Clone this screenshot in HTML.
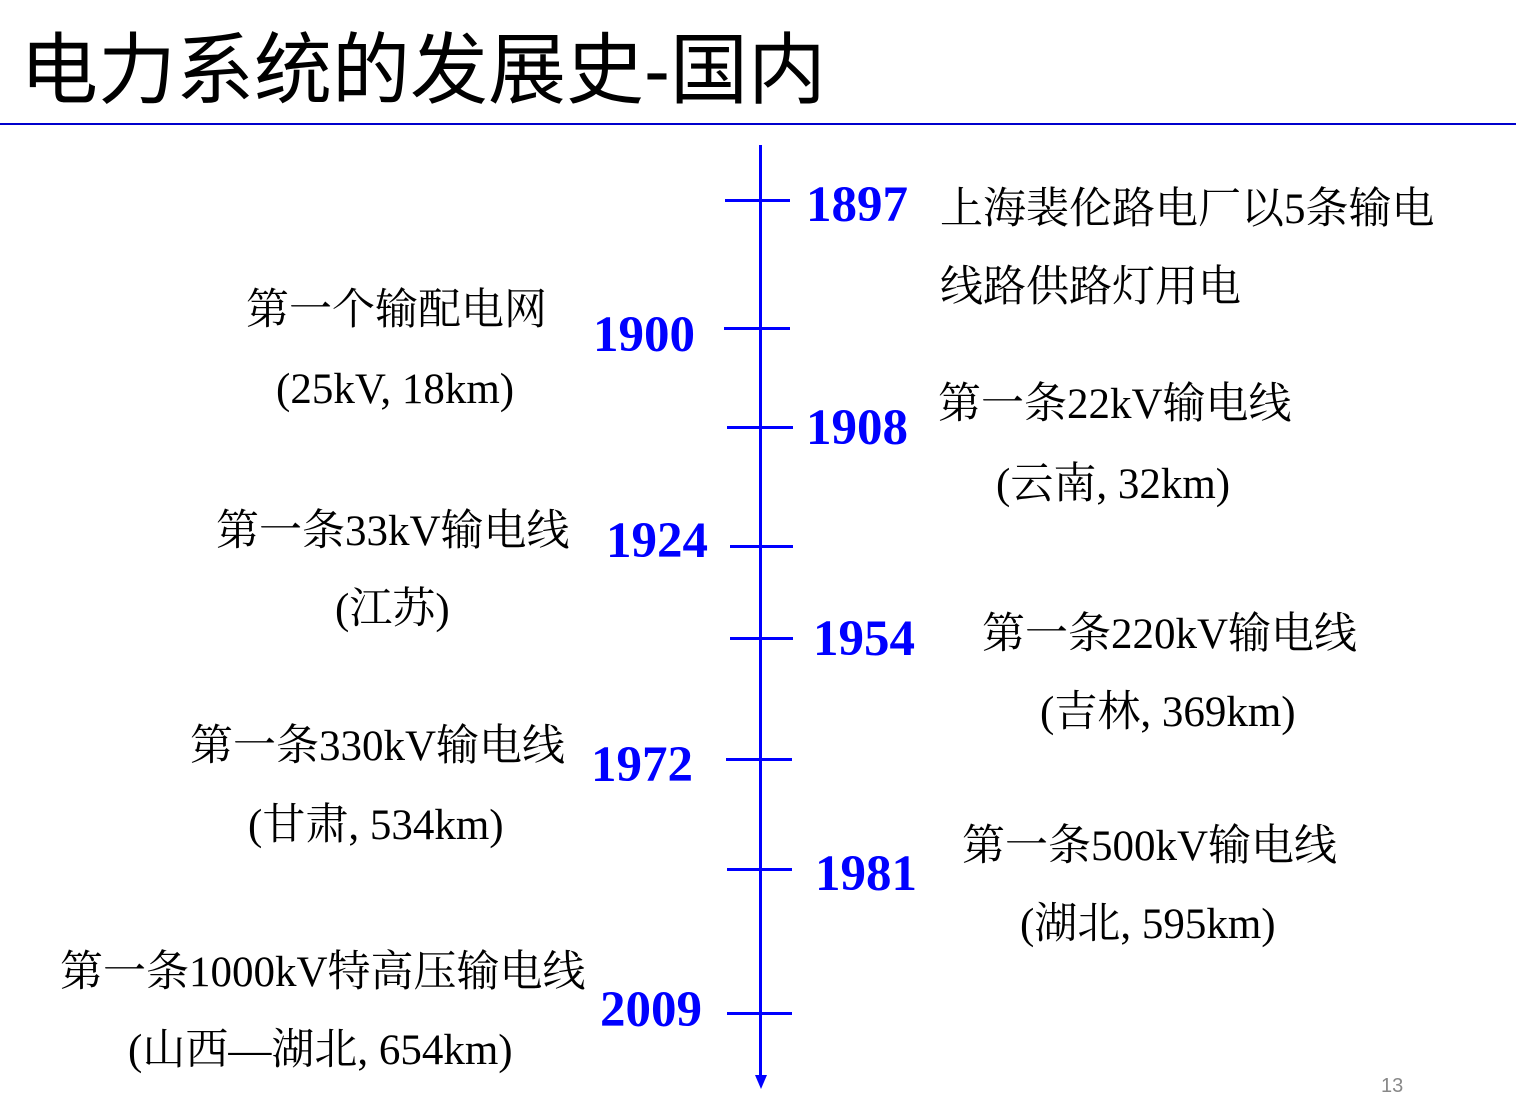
<!DOCTYPE html>
<html><head><meta charset="utf-8"><style>
body{margin:0;width:1516px;height:1110px;background:#fff;position:relative;overflow:hidden}
.t{position:absolute;white-space:nowrap}
.title{left:20px;top:28px;font:78px "Liberation Sans","Noto Sans CJK SC",sans-serif;color:#000}
.y{font:bold 51px "Liberation Serif",serif;color:#0000ff;line-height:1}
.c{font:43px "Liberation Serif","Noto Serif CJK SC",serif;color:#000;line-height:1}
.tick{position:absolute;height:3px;background:#0000ff}
</style></head><body>
<div class="t title" style="line-height:1.1">电力系统的发展史-国内</div>
<div style="position:absolute;left:0;top:123px;width:1516px;height:2px;background:#0000cc"></div>
<div style="position:absolute;left:759px;top:145px;width:3px;height:935px;background:#0000ff"></div>
<svg style="position:absolute;left:752px;top:1075px" width="18" height="16"><polygon points="3,0 15,0 9,14" fill="#0000ff"/></svg>

<div class="tick" style="left:725px;top:199px;width:65px"></div>
<div class="tick" style="left:724px;top:327px;width:66px"></div>
<div class="tick" style="left:727px;top:426px;width:66px"></div>
<div class="tick" style="left:730px;top:545px;width:63px"></div>
<div class="tick" style="left:730px;top:637px;width:63px"></div>
<div class="tick" style="left:726px;top:758px;width:66px"></div>
<div class="tick" style="left:727px;top:868px;width:65px"></div>
<div class="tick" style="left:727px;top:1012px;width:65px"></div>

<div class="t y" style="left:806px;top:180px">1897</div>
<div class="t y" style="left:593px;top:310px">1900</div>
<div class="t y" style="left:806px;top:403px">1908</div>
<div class="t y" style="left:606px;top:516px">1924</div>
<div class="t y" style="left:813px;top:614px">1954</div>
<div class="t y" style="left:591px;top:740px">1972</div>
<div class="t y" style="left:815px;top:849px">1981</div>
<div class="t y" style="left:600px;top:985px">2009</div>

<div class="t c" style="left:940px;top:188px">上海裴伦路电厂以5条输电</div>
<div class="t c" style="left:940px;top:266px">线路供路灯用电</div>
<div class="t c" style="left:246px;top:289px">第一个输配电网</div>
<div class="t c" style="left:276px;top:368px">(25kV, 18km)</div>
<div class="t c" style="left:938px;top:383px">第一条22kV输电线</div>
<div class="t c" style="left:996px;top:463px">(云南, 32km)</div>
<div class="t c" style="left:216px;top:510px">第一条33kV输电线</div>
<div class="t c" style="left:335px;top:588px">(江苏)</div>
<div class="t c" style="left:982px;top:613px">第一条220kV输电线</div>
<div class="t c" style="left:1040px;top:691px">(吉林, 369km)</div>
<div class="t c" style="left:190px;top:725px">第一条330kV输电线</div>
<div class="t c" style="left:248px;top:804px">(甘肃, 534km)</div>
<div class="t c" style="left:962px;top:825px">第一条500kV输电线</div>
<div class="t c" style="left:1020px;top:903px">(湖北, 595km)</div>
<div class="t c" style="left:60px;top:951px">第一条1000kV特高压输电线</div>
<div class="t c" style="left:128px;top:1029px">(山西—湖北, 654km)</div>
<div class="t" style="left:1381px;top:1075px;font:20px 'Liberation Sans',sans-serif;color:#888">13</div>
</body></html>
